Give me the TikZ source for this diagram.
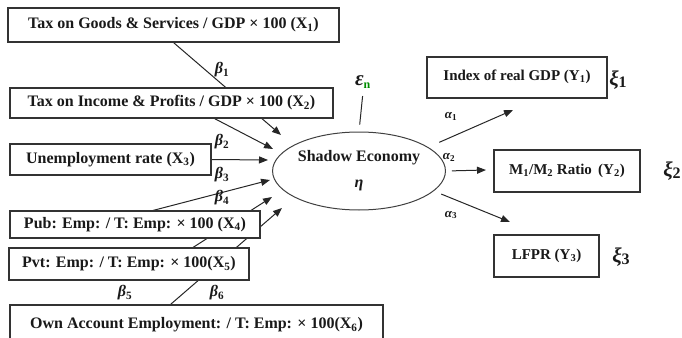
\documentclass[tikz,border=0pt]{standalone}
\usepackage{fontspec}
\setmainfont{Liberation Serif}
\usetikzlibrary{shapes.geometric, arrows.meta, backgrounds}

\tikzset{
  varbox/.style={draw=black!80, line width=1.1pt, fill=white, inner sep=0pt,
    text=black!90, font=\bfseries\fontsize{16}{18}\selectfont},
  outbox/.style={varbox, font=\bfseries\fontsize{15}{17}\selectfont},
  arr/.style={line width=1pt, draw=black!85, -{Triangle[length=9pt,width=7pt]}},
  coef/.style={font=\bfseries\itshape\fontsize{16}{18}\selectfont, text=black!90},
  loadcoef/.style={font=\bfseries\itshape\fontsize{13}{15}\selectfont, text=black!90},
  errterm/.style={font=\bfseries\itshape\fontsize{21}{23}\selectfont, text=black!90},
}
\newcommand{\lowidx}[1]{\textsubscript{\upshape #1}}

\begin{document}
\begin{tikzpicture}[x=1pt, y=-1pt]
  \useasboundingbox (0,0) rectangle (682,337);

  % Causes (X)
  \node[varbox, minimum width=331, minimum height=34] (x1) at (173.5,25)
    {Tax on Goods \& Services / GDP × 100 (X\textsubscript{1})};
  \node[varbox, minimum width=323, minimum height=30] (x2) at (171.5,103)
    {Tax on Income \& Profits / GDP × 100 (X\textsubscript{2})};
  \node[varbox, minimum width=201, minimum height=31] (x3) at (110.5,159.5)
    {Unemployment rate (X\textsubscript{3})};
  \node[varbox, minimum width=250, minimum height=27] (x4) at (135,224.5)
    {Pub: Emp: / T: Emp: × 100 (X\textsubscript{4})};
  \node[varbox, minimum width=240, minimum height=32] (x5) at (129,264)
    {Pvt: Emp: / T: Emp: × 100(X\textsubscript{5})};
  \node[varbox, minimum width=373, minimum height=40] (x6) at (196.5,325)
    {\raisebox{4pt}{Own Account Employment: / T: Emp: × 100(X\textsubscript{6})}};

  % Latent variable
  \node[ellipse, draw=black!75, line width=1pt, minimum width=168, minimum height=78,
    inner sep=0pt, align=center, text=black!90,
    font=\bfseries\fontsize{16}{26}\selectfont] (ell) at (359,171)
    {Shadow Economy\\{\itshape η}};
  \node[errterm] (eps) at (363,82) {ε\textsubscript{\upshape\fontsize{12}{12}\selectfont\color{green!55!black}n}};

  % Indicators (Y)
  \node[outbox, minimum width=180, minimum height=41] (y1) at (517,77.5)
    {\raisebox{4pt}{Index of real GDP (Y\textsubscript{1})}};
  \node[outbox, minimum width=146, minimum height=42] (y2) at (567,171)
    {M\textsubscript{1}/M\textsubscript{2} Ratio\, (Y\textsubscript{2})};
  \node[outbox, minimum width=105, minimum height=42] (y3) at (546.5,256)
    {\raisebox{2pt}{LFPR (Y\textsubscript{3})}};
  \node[errterm] (xi1) at (618,80) {ξ\raisebox{-2pt}{\upshape\fontsize{16}{16}\selectfont 1}};
  \node[errterm] (xi2) at (672,171) {ξ\raisebox{-2pt}{\upshape\fontsize{16}{16}\selectfont 2}};
  \node[errterm] (xi3) at (621,257) {ξ\raisebox{-2pt}{\upshape\fontsize{16}{16}\selectfont 3}};

  % Arrow tips in front of the ellipse
  \coordinate (t1) at (281,135);
  \coordinate (t2) at (273,149);
  \coordinate (t3) at (268,160);
  \coordinate (t4) at (270,180);
  \coordinate (t5) at (272,197);
  \coordinate (t6) at (282,208);
  \coordinate (u1) at (513,110);
  \coordinate (u2) at (486,170);
  \coordinate (u3) at (510,222);

  % Paths (behind the boxes)
  \begin{scope}[on background layer]
    \draw[arr] (x1.south) -- (t1);
    \draw[arr] ([xshift=43pt]x2.south) -- (t2);
    \draw[arr] (x3.east) -- (t3);
    \draw[arr] ([xshift=18pt]x4.north) -- (t4);
    \draw[arr] ([xshift=64pt]x5.north) -- (t5);
    \draw[arr] ([xshift=-26pt]x6.north) -- (t6);
  \end{scope}
  \draw[line width=1pt, draw=black!85, shorten <=4pt, shorten >=7pt] (eps.south) -- (ell.north);
  \draw[arr, shorten <=12pt] (ell.19) -- (u1);
  \draw[arr, shorten <=6pt] (ell.east) -- (u2);
  \draw[arr, shorten <=8pt] (ell.-15) -- (u3);

  % Coefficients
  \node[coef] (b1) at (222,70) {β\lowidx{1}};
  \node[coef] (b2) at (222,142) {β\lowidx{2}};
  \node[coef] (b3) at (222,175) {β\lowidx{3}};
  \node[coef] (b4) at (222,198) {β\lowidx{4}};
  \node[coef] (b5) at (125,293) {β\lowidx{5}};
  \node[coef] (b6) at (217,293) {β\lowidx{6}};
  \node[loadcoef] (a1) at (451,116) {α\lowidx{1}};
  \node[loadcoef] (a2) at (449,157) {α\lowidx{2}};
  \node[loadcoef] (a3) at (451,215) {α\lowidx{3}};
\end{tikzpicture}
\end{document}
